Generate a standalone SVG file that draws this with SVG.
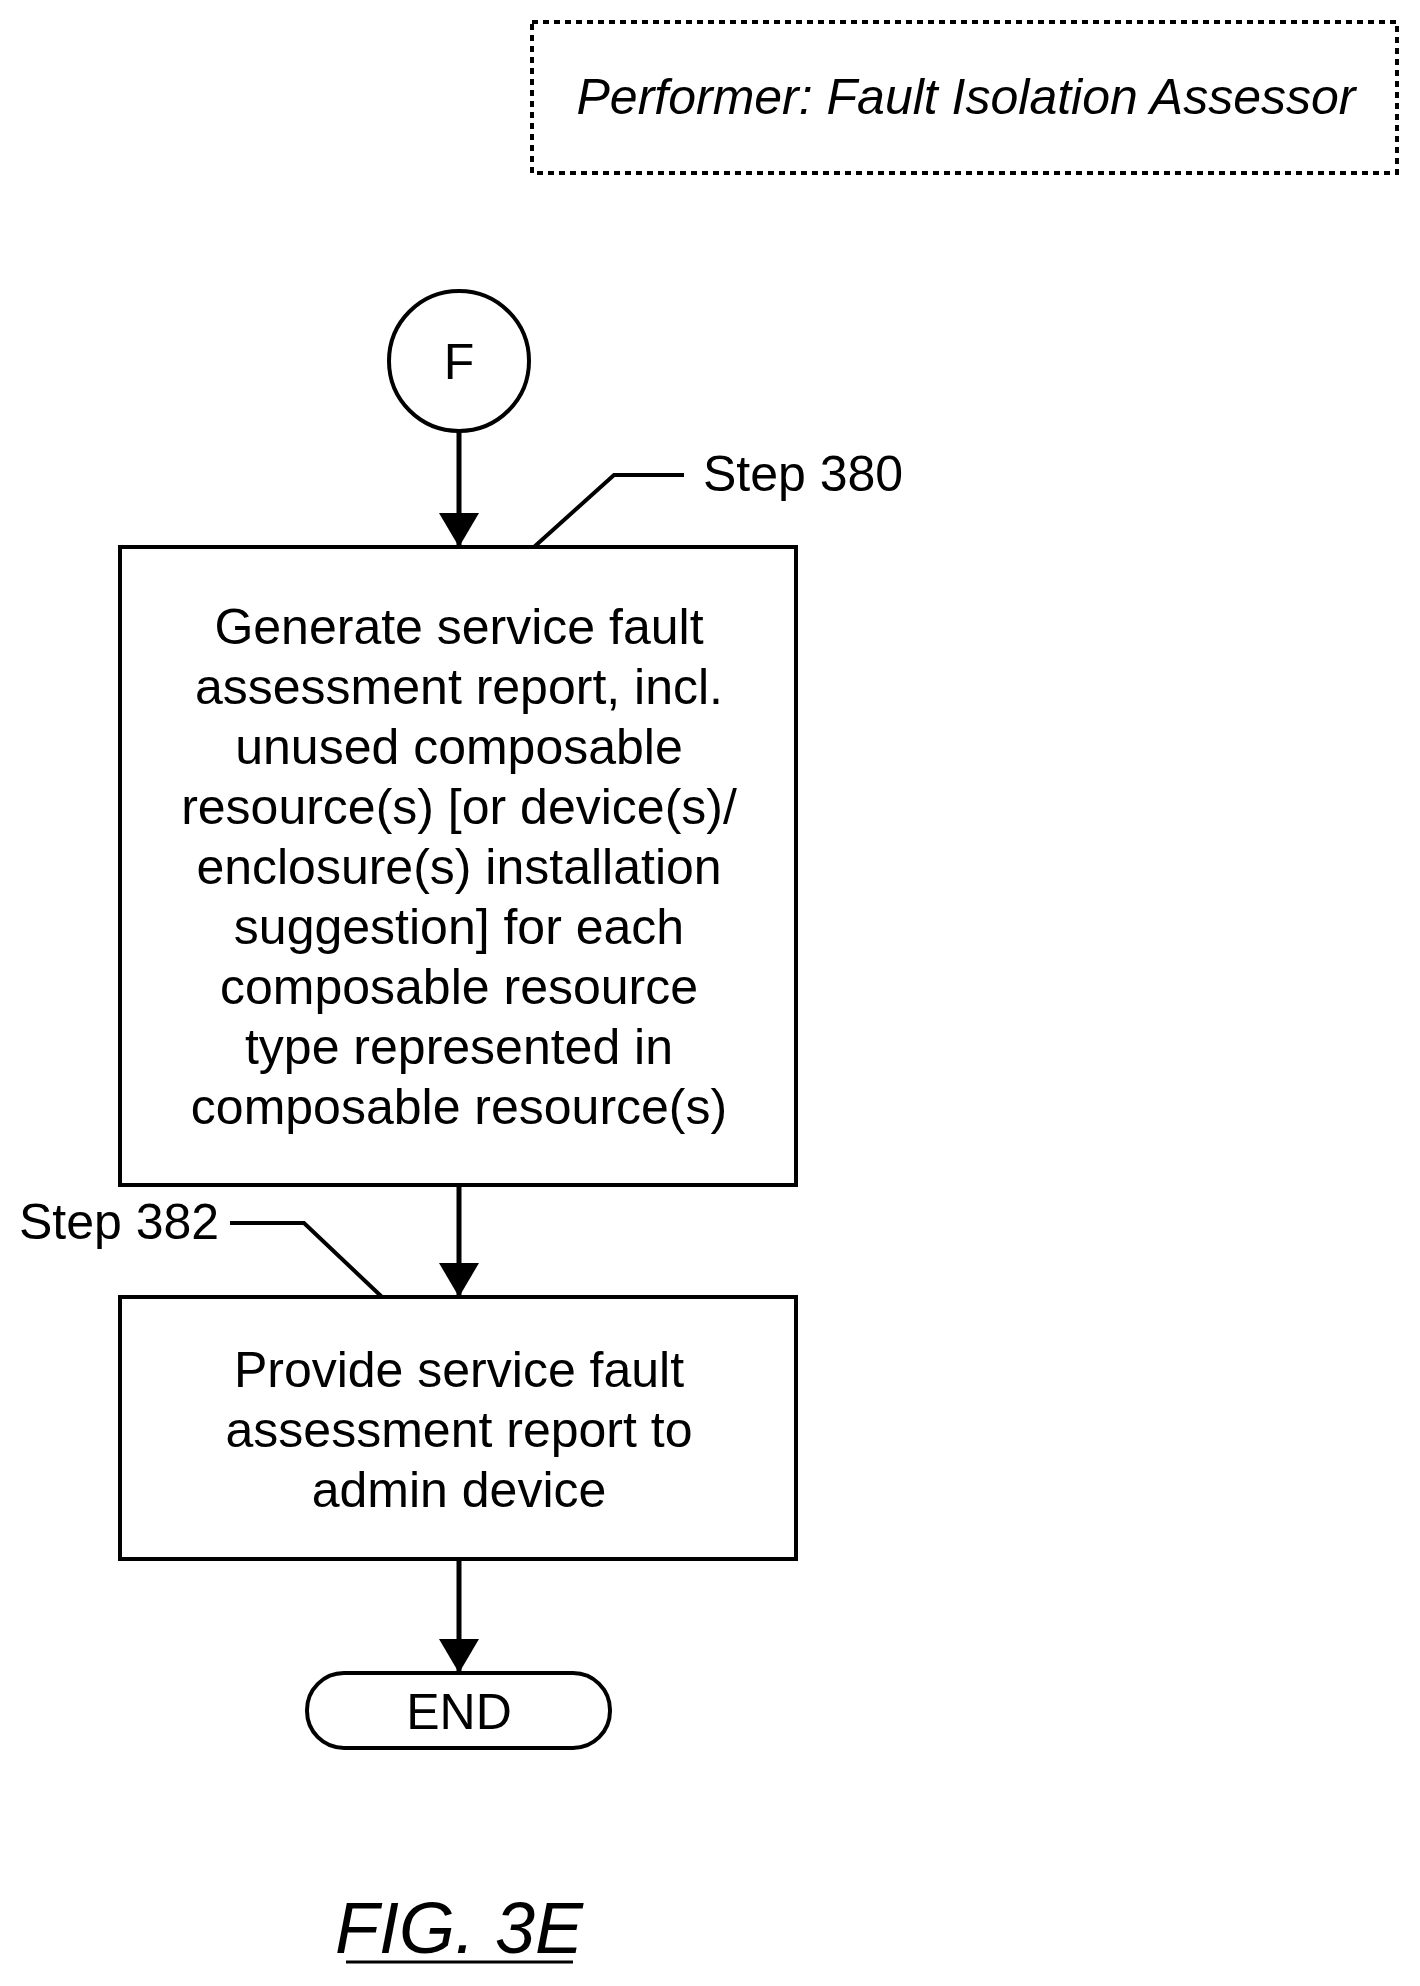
<svg xmlns="http://www.w3.org/2000/svg" width="1420" height="1986" viewBox="0 0 1420 1986">
<style>
text{font-family:"Liberation Sans",Arial,sans-serif;fill:#000;font-size:50px}
.m{text-anchor:middle}
.st{text-anchor:start}
.i{font-style:italic}
.fig{font-size:72px}
.s{fill:#fff;stroke:#000;stroke-width:4}
.l{fill:none;stroke:#000;stroke-width:4}
.c{fill:none;stroke:#000;stroke-width:5}
</style>
<defs>
<marker id="ah" viewBox="0 0 34 40" refX="34" refY="20" markerWidth="34" markerHeight="40" markerUnits="userSpaceOnUse" orient="auto"><path d="M0,0L34,20L0,40z"/></marker></defs>
<rect width="1420" height="1986" fill="#fff"/>
<g id="performer"><rect x="532" y="22" width="865" height="151" fill="none" stroke="#000" stroke-width="4" stroke-dasharray="6,5"/><text class="m i" x="966" y="114">Performer: Fault Isolation Assessor</text></g>
<g id="F"><circle class="s" cx="459" cy="361" r="70"/><text class="m" x="459" y="379">F</text></g>
<g id="step380"><rect class="s" x="120" y="547" width="676" height="638"/>
<text class="m" x="459" y="644">Generate service fault</text><text class="m" x="459" y="704">assessment report, incl.</text><text class="m" x="459" y="764">unused composable</text><text class="m" x="459" y="824">resource(s) [or device(s)/</text><text class="m" x="459" y="884">enclosure(s) installation</text><text class="m" x="459" y="944">suggestion] for each</text><text class="m" x="459" y="1004">composable resource</text><text class="m" x="459" y="1064">type represented in</text><text class="m" x="459" y="1124">composable resource(s)</text></g>
<g id="step382"><rect class="s" x="120" y="1297" width="676" height="262"/>
<text class="m" x="459" y="1387">Provide service fault</text><text class="m" x="459" y="1447">assessment report to</text><text class="m" x="459" y="1507">admin device</text></g>
<g id="end"><rect class="s" x="307" y="1673" width="303" height="75" rx="37"/><text class="m" x="459" y="1729">END</text></g>
<g id="labels"><text class="st" x="703" y="491">Step 380</text><text class="st" x="19" y="1239">Step 382</text>
<text class="m i fig" x="459" y="1953">FIG. 3E</text><line x1="346" y1="1962" x2="573" y2="1962" stroke="#000" stroke-width="3"/></g>
<g id="connectors">
<line class="c" x1="459" y1="431" x2="459" y2="547" marker-end="url(#ah)"/>
<line class="c" x1="459" y1="1185" x2="459" y2="1297" marker-end="url(#ah)"/>
<line class="c" x1="459" y1="1559" x2="459" y2="1673" marker-end="url(#ah)"/>
<polyline class="l" points="534,547 614,475 684,475"/>
<polyline class="l" points="230,1223 304,1223 382,1297"/>
</g>
</svg>
